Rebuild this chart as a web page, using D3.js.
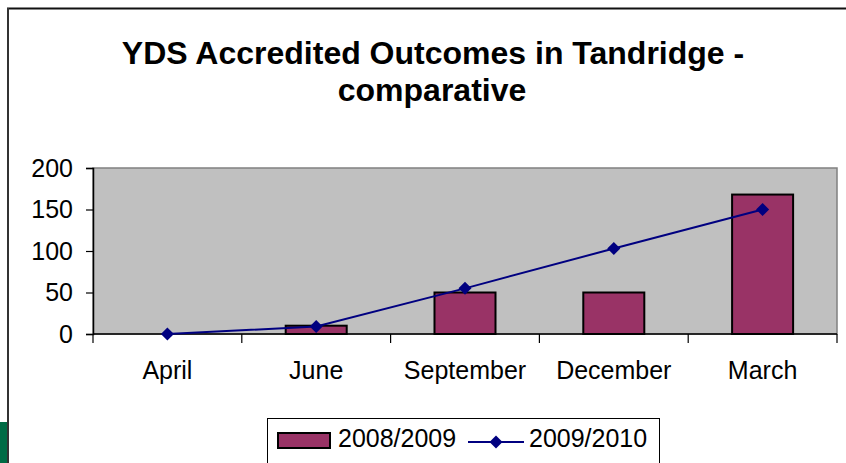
<!DOCTYPE html>
<html>
<head>
<meta charset="utf-8">
<script src="https://cdn.jsdelivr.net/npm/d3@7"></script>
<style>
  html, body { margin: 0; padding: 0; background: #fff; }
  svg { display: block; font-family: "Liberation Sans", Arial, sans-serif; }
</style>
</head>
<body>
<div id="chart"></div>
<script>
// data
const months = ["April", "June", "September", "December", "March"];
const outcomes0809 = [0, 10, 50, 50, 168];
const outcomes0910 = [0, 9, 55, 103, 150];
const yTicks = [0, 50, 100, 150, 200];
const seriesNames = ["2008/2009", "2009/2010"];

const width = 846, height = 463;
const plot = { left: 93, top: 168, right: 837, bottom: 334 };

const svg = d3.select("#chart").append("svg")
    .attr("width", width)
    .attr("height", height);

// outer frame of the slide object
svg.append("rect").attr("x", 0).attr("y", 0).attr("width", width).attr("height", height).style("fill", "#fff");
svg.append("line").attr("x1", 7).attr("x2", width).attr("y1", 8.5).attr("y2", 8.5)
   .style("stroke", "#111").style("stroke-width", 2);
svg.append("line").attr("x1", 8).attr("x2", 8).attr("y1", 8).attr("y2", height)
   .style("stroke", "#333").style("stroke-width", 2);
svg.append("rect").attr("x", 0).attr("y", 422).attr("width", 7).attr("height", 41)
   .style("fill", "#006b45");

// title
const title = svg.append("text")
    .attr("text-anchor", "middle")
    .style("font-size", "32px")
    .style("font-weight", "bold")
    .style("fill", "#000");
title.append("tspan").attr("x", 433).attr("y", 64).text("YDS Accredited Outcomes in Tandridge -");
title.append("tspan").attr("x", 432).attr("y", 101).text("comparative");

const x = d3.scaleBand()
    .domain(months)
    .range([plot.left, plot.right]);

const y = d3.scaleLinear()
    .domain([0, 200])
    .range([plot.bottom, plot.top]);

// plot area
svg.append("rect")
    .attr("x", plot.left).attr("y", plot.top)
    .attr("width", plot.right - plot.left).attr("height", plot.bottom - plot.top)
    .style("fill", "#c0c0c0")
    .style("stroke", "#808080")
    .style("stroke-width", 1.5);

// bars
const barW = x.bandwidth() * 0.41;
svg.selectAll(".bar")
    .data(outcomes0809)
    .enter()
    .append("rect")
    .attr("class", "bar")
    .attr("x", (d, i) => x(months[i]) + x.bandwidth() / 2 - barW / 2)
    .attr("y", d => y(d))
    .attr("width", barW)
    .attr("height", d => y(0) - y(d))
    .style("fill", "#993366")
    .style("stroke", "#000")
    .style("stroke-width", 2);

// y axis
const yAxis = svg.append("g")
    .attr("transform", `translate(${plot.left},0)`)
    .call(d3.axisLeft(y).tickValues(yTicks).tickSize(7).tickPadding(13));
yAxis.select(".domain").style("stroke", "#000").style("stroke-width", 1.5);
yAxis.selectAll(".tick line").style("stroke", "#000").style("stroke-width", 1.2);
yAxis.selectAll("text")
    .style("font-size", "25px")
    .style("font-family", "'Liberation Sans', Arial, sans-serif")
    .style("fill", "#000");

// x axis: ticks sit between the categories
const xAxis = svg.append("g")
    .attr("transform", `translate(0,${plot.bottom})`);
xAxis.append("line")
    .attr("x1", plot.left).attr("x2", plot.right)
    .style("stroke", "#000").style("stroke-width", 1.5);
const bounds = months.map(m => x(m)).concat([plot.right]);
xAxis.selectAll(".xtick")
    .data(bounds)
    .enter()
    .append("line")
    .attr("class", "xtick")
    .attr("x1", d => d).attr("x2", d => d)
    .attr("y1", 0).attr("y2", 9)
    .style("stroke", "#000").style("stroke-width", 1.2);
xAxis.selectAll(".xlabel")
    .data(months)
    .enter()
    .append("text")
    .attr("class", "xlabel")
    .attr("x", d => x(d) + x.bandwidth() / 2)
    .attr("y", 45)
    .attr("text-anchor", "middle")
    .style("font-size", "25px")
    .style("fill", "#000")
    .text(d => d);

// line series
const line = d3.line()
    .x((d, i) => x(months[i]) + x.bandwidth() / 2)
    .y(d => y(d));
svg.append("path")
    .datum(outcomes0910)
    .attr("d", line)
    .style("fill", "none")
    .style("stroke", "#000080")
    .style("stroke-width", 2);

svg.selectAll(".pt")
    .data(outcomes0910)
    .enter()
    .append("path")
    .attr("class", "pt")
    .attr("transform", (d, i) => `translate(${x(months[i]) + x.bandwidth() / 2},${y(d)}) rotate(45)`)
    .attr("d", d3.symbol().type(d3.symbolSquare).size(85))
    .style("fill", "#000080");

// legend
const legend = svg.append("g");
legend.append("rect")
    .attr("x", 267.5).attr("y", 418.5)
    .attr("width", 392).attr("height", 60)
    .style("fill", "#fff")
    .style("stroke", "#000")
    .style("stroke-width", 1);
legend.append("rect")
    .attr("x", 278).attr("y", 433)
    .attr("width", 52).attr("height", 15)
    .style("fill", "#993366")
    .style("stroke", "#000")
    .style("stroke-width", 2);
legend.append("text")
    .attr("x", 338).attr("y", 447)
    .style("font-size", "25px")
    .text(seriesNames[0]);
legend.append("line")
    .attr("x1", 468).attr("x2", 524)
    .attr("y1", 442).attr("y2", 442)
    .style("stroke", "#000080").style("stroke-width", 2);
legend.append("path")
    .attr("transform", "translate(496,442) rotate(45)")
    .attr("d", d3.symbol().type(d3.symbolSquare).size(85))
    .style("fill", "#000080");
legend.append("text")
    .attr("x", 529).attr("y", 447)
    .style("font-size", "25px")
    .text(seriesNames[1]);
</script>
</body>
</html>
